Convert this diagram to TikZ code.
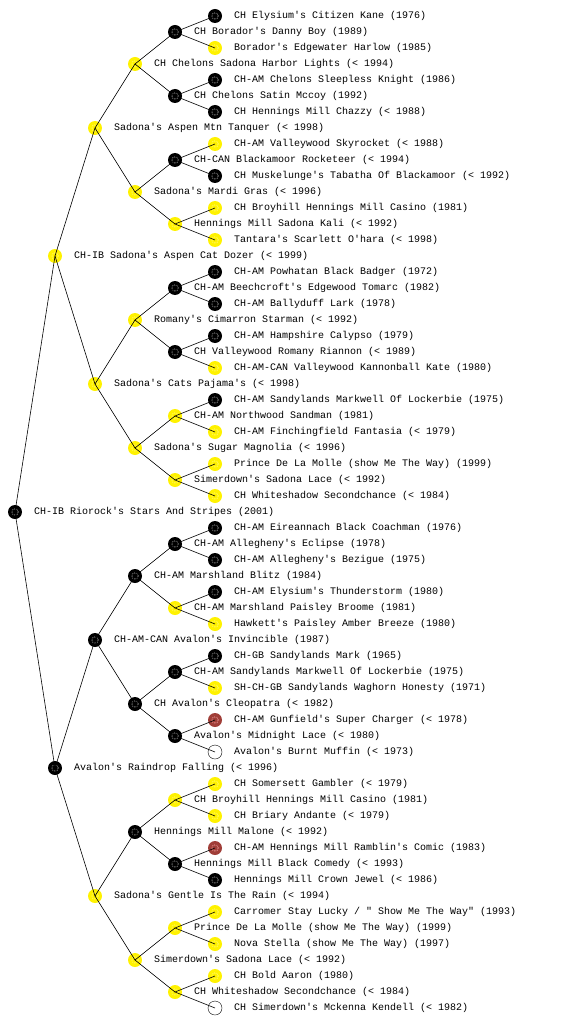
\documentclass[tikz,border=0pt]{standalone}
\usepackage{fontspec}
\setmonofont{Liberation Mono}
\usepackage{tikz}
\definecolor{BrownRed}{RGB}{160,62,56}
\tikzset{
  dog/.style    = {circle,minimum size=14pt,inner sep=0pt,
                   path picture={\draw[#1,densely dotted,line width=0.7pt]
                     (path picture bounding box.center) circle (3.2pt);}},
  B/.style      = {dog=white!70!black,fill=black},
  Y/.style      = {dog=yellow!40!white,fill=yellow},
  R/.style      = {dog=red!30!white,fill=BrownRed},
  W/.style      = {circle,minimum size=14pt,inner sep=0pt,draw=black,fill=white,thin},
  dogname/.style= {anchor=west,inner sep=0pt,font=\ttfamily\fontsize{10}{12}\selectfont},
  link/.style   = {black,line width=0.6pt}
}

\begin{document}
\begin{tikzpicture}[x=1pt,y=-1pt]
  \useasboundingbox (0,0) rectangle (560,1024);
  % dogs, top to bottom: index/column/colour/name
  \foreach \p/\x/\c/\t in {
    1/215/B/{CH Elysium's Citizen Kane (1976)},
    2/175/B/{CH Borador's Danny Boy (1989)},
    3/215/Y/{Borador's Edgewater Harlow (1985)},
    4/135/Y/{CH Chelons Sadona Harbor Lights (< 1994)},
    5/215/B/{CH-AM Chelons Sleepless Knight (1986)},
    6/175/B/{CH Chelons Satin Mccoy (1992)},
    7/215/B/{CH Hennings Mill Chazzy (< 1988)},
    8/95/Y/{Sadona's Aspen Mtn Tanquer (< 1998)},
    9/215/Y/{CH-AM Valleywood Skyrocket (< 1988)},
    10/175/B/{CH-CAN Blackamoor Rocketeer (< 1994)},
    11/215/B/{CH Muskelunge's Tabatha Of Blackamoor (< 1992)},
    12/135/Y/{Sadona's Mardi Gras (< 1996)},
    13/215/Y/{CH Broyhill Hennings Mill Casino (1981)},
    14/175/Y/{Hennings Mill Sadona Kali (< 1992)},
    15/215/Y/{Tantara's Scarlett O'hara (< 1998)},
    16/55/Y/{CH-IB Sadona's Aspen Cat Dozer (< 1999)},
    17/215/B/{CH-AM Powhatan Black Badger (1972)},
    18/175/B/{CH-AM Beechcroft's Edgewood Tomarc (1982)},
    19/215/B/{CH-AM Ballyduff Lark (1978)},
    20/135/Y/{Romany's Cimarron Starman (< 1992)},
    21/215/B/{CH-AM Hampshire Calypso (1979)},
    22/175/B/{CH Valleywood Romany Riannon (< 1989)},
    23/215/Y/{CH-AM-CAN Valleywood Kannonball Kate (1980)},
    24/95/Y/{Sadona's Cats Pajama's (< 1998)},
    25/215/B/{CH-AM Sandylands Markwell Of Lockerbie (1975)},
    26/175/Y/{CH-AM Northwood Sandman (1981)},
    27/215/Y/{CH-AM Finchingfield Fantasia (< 1979)},
    28/135/Y/{Sadona's Sugar Magnolia (< 1996)},
    29/215/Y/{Prince De La Molle (show Me The Way) (1999)},
    30/175/Y/{Simerdown's Sadona Lace (< 1992)},
    31/215/Y/{CH Whiteshadow Secondchance (< 1984)},
    32/15/B/{CH-IB Riorock's Stars And Stripes (2001)},
    33/215/B/{CH-AM Eireannach Black Coachman (1976)},
    34/175/B/{CH-AM Allegheny's Eclipse (1978)},
    35/215/B/{CH-AM Allegheny's Bezigue (1975)},
    36/135/B/{CH-AM Marshland Blitz (1984)},
    37/215/B/{CH-AM Elysium's Thunderstorm (1980)},
    38/175/Y/{CH-AM Marshland Paisley Broome (1981)},
    39/215/Y/{Hawkett's Paisley Amber Breeze (1980)},
    40/95/B/{CH-AM-CAN Avalon's Invincible (1987)},
    41/215/B/{CH-GB Sandylands Mark (1965)},
    42/175/B/{CH-AM Sandylands Markwell Of Lockerbie (1975)},
    43/215/Y/{SH-CH-GB Sandylands Waghorn Honesty (1971)},
    44/135/B/{CH Avalon's Cleopatra (< 1982)},
    45/215/R/{CH-AM Gunfield's Super Charger (< 1978)},
    46/175/B/{Avalon's Midnight Lace (< 1980)},
    47/215/W/{Avalon's Burnt Muffin (< 1973)},
    48/55/B/{Avalon's Raindrop Falling (< 1996)},
    49/215/Y/{CH Somersett Gambler (< 1979)},
    50/175/Y/{CH Broyhill Hennings Mill Casino (1981)},
    51/215/Y/{CH Briary Andante (< 1979)},
    52/135/B/{Hennings Mill Malone (< 1992)},
    53/215/R/{CH-AM Hennings Mill Ramblin's Comic (1983)},
    54/175/B/{Hennings Mill Black Comedy (< 1993)},
    55/215/B/{Hennings Mill Crown Jewel (< 1986)},
    56/95/Y/{Sadona's Gentle Is The Rain (< 1994)},
    57/215/Y/{Carromer Stay Lucky / " Show Me The Way" (1993)},
    58/175/Y/{Prince De La Molle (show Me The Way) (1999)},
    59/215/Y/{Nova Stella (show Me The Way) (1997)},
    60/135/Y/{Simerdown's Sadona Lace (< 1992)},
    61/215/Y/{CH Bold Aaron (1980)},
    62/175/Y/{CH Whiteshadow Secondchance (< 1984)},
    63/215/W/{CH Simerdown's Mckenna Kendell (< 1982)}}
  {
    \node[\c] (n\p) at (\x,16*\p) {};
    \node[dogname] (t\p) at ([xshift=19pt]n\p.center) {\t};
  }
  % sire and dam links, one generation at a time
  \foreach \h/\m in {16/0,8/1,4/3,2/7,1/15}
    \foreach \k in {0,...,\m} {
      \pgfmathtruncatemacro\pa{2*\h*(2*\k+1)}
      \pgfmathtruncatemacro\sire{\pa-\h}
      \pgfmathtruncatemacro\dam{\pa+\h}
      \draw[link] (n\sire.center) -- (n\pa.center) -- (n\dam.center);
    }
\end{tikzpicture}
\end{document}
